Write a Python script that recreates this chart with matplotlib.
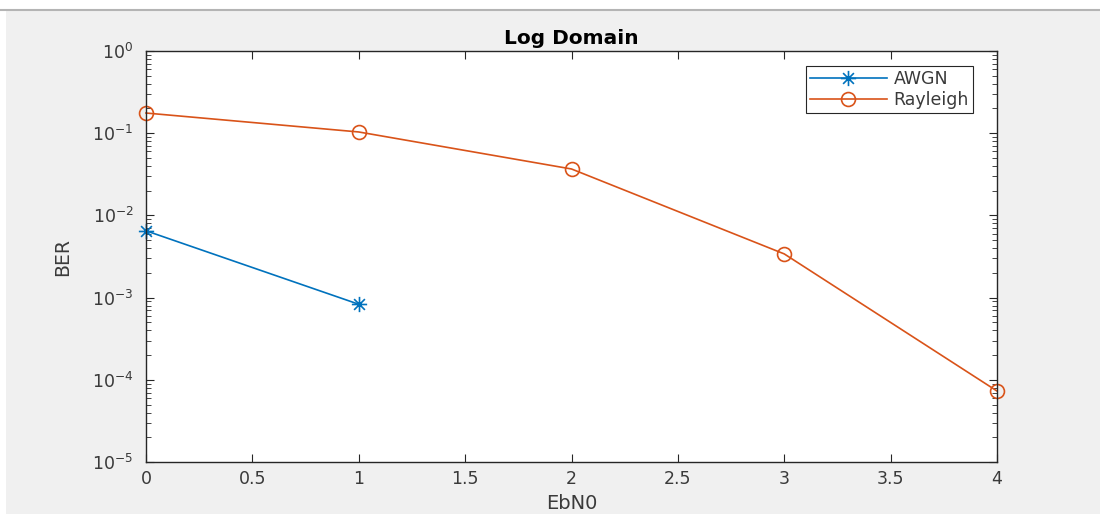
import matplotlib
matplotlib.use("Agg")
import matplotlib.pyplot as plt
from matplotlib.ticker import LogLocator, NullFormatter
from matplotlib.patches import Rectangle
from matplotlib.lines import Line2D
from matplotlib.path import Path
import numpy as np

plt.rcParams['font.family'] = ['DejaVu Sans']
plt.rcParams['mathtext.fontset'] = 'dejavusans'

ebn0_awgn = [0, 1]
ber_awgn = [0.0065, 0.00083]
ebn0_ray = [0, 1, 2, 3, 4]
ber_ray = [0.176, 0.1035, 0.0367, 0.0034, 7.3e-5]
xticks = [0, 0.5, 1, 1.5, 2, 2.5, 3, 3.5, 4]
xticklabels = ['0', '0.5', '1', '1.5', '2', '2.5', '3', '3.5', '4']

# MATLAB-style asterisk marker (8 spokes)
verts, codes = [], []
for ang in [0, 45, 90, 135]:
    a = np.deg2rad(ang)
    verts += [(-np.cos(a), -np.sin(a)), (np.cos(a), np.sin(a))]
    codes += [Path.MOVETO, Path.LINETO]
asterisk = Path(verts, codes)

fig = plt.figure(figsize=(11, 5.14), dpi=100, facecolor='#f0f0f0')
fig.add_artist(Rectangle((0, 1 - 9/514), 1, 9/514, transform=fig.transFigure,
                         facecolor='white', edgecolor='none', zorder=0))
fig.add_artist(Rectangle((0, 0), 6/1100, 1, transform=fig.transFigure,
                         facecolor='white', edgecolor='none', zorder=0))
fig.add_artist(Line2D([0, 1], [1 - 10/514, 1 - 10/514], transform=fig.transFigure,
                      color='#b4b4b4', lw=1.5))

ax = fig.add_axes([146/1100, 1 - 462/514, (997-146)/1100, (462-51)/514])
ax.plot(ebn0_awgn, ber_awgn, color='#0072BD', marker=asterisk, markersize=11,
        markeredgewidth=1.2, lw=1.2, label='AWGN', clip_on=False)
ax.plot(ebn0_ray, ber_ray, color='#D95319', marker='o', markersize=10,
        markerfacecolor='none', markeredgewidth=1.2, lw=1.2, label='Rayleigh',
        clip_on=False)
ax.set_yscale('log')
ax.set_ylim(1e-5, 1)
ax.set_xlim(0, 4)
ax.set_xticks(xticks)
ax.set_xticklabels(xticklabels)
ax.yaxis.set_major_locator(LogLocator(base=10, numticks=10))
ax.yaxis.set_minor_locator(LogLocator(base=10, subs=range(2, 10), numticks=20))
ax.yaxis.set_minor_formatter(NullFormatter())
for s in ax.spines.values():
    s.set_color('#262626')
    s.set_linewidth(1.0)
ax.tick_params(which='both', direction='in', top=True, right=True, colors='#262626',
               labelsize=12.5, labelcolor='#3a3a3a')
ax.tick_params(which='major', length=6)
ax.tick_params(which='minor', length=3.5)
ax.tick_params(axis='x', pad=6)
ax.tick_params(axis='y', pad=9)
ax.set_title('Log Domain', fontsize=14.5, fontweight='bold', pad=5)
ax.set_xlabel('EbN0', fontsize=14, color='#3a3a3a', labelpad=4)
ax.set_ylabel('BER', fontsize=13.5, color='#3a3a3a', labelpad=14)
leg = ax.legend(loc='upper right', bbox_to_anchor=(0.972, 0.9635), fontsize=12.5,
                fancybox=False, edgecolor='#262626', framealpha=1,
                handlelength=4.4, borderpad=0.25, labelspacing=0.15, handletextpad=0.4,
                borderaxespad=0)
leg.get_frame().set_linewidth(0.8)
for t in leg.get_texts():
    t.set_color('#3a3a3a')

fig.savefig('out.png', dpi=100, facecolor=fig.get_facecolor())
